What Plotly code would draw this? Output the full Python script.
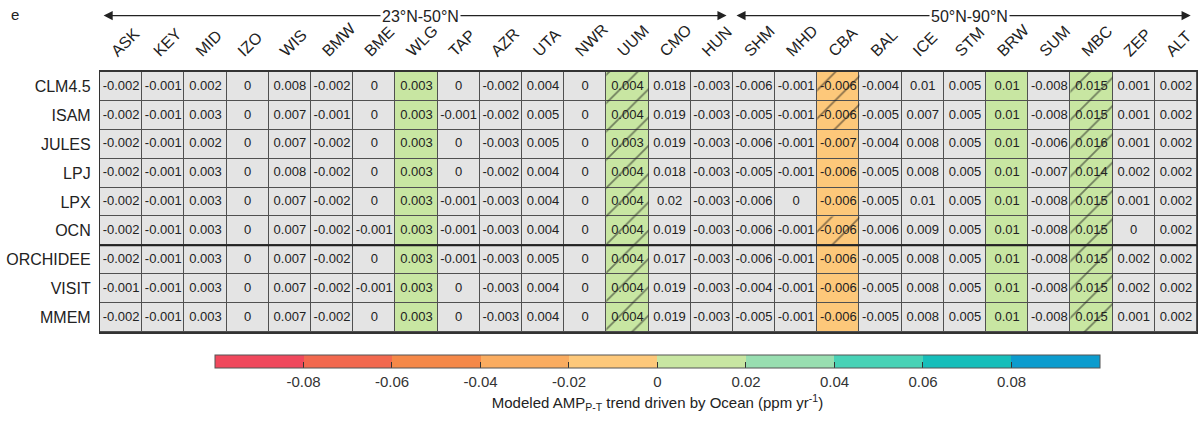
import plotly.graph_objects as go

# Stations (columns) and models (rows)
stations = ["ASK", "KEY", "MID", "IZO", "WIS", "BMW", "BME", "WLG", "TAP", "AZR", "UTA", "NWR", "UUM",
            "CMO", "HUN", "SHM", "MHD", "CBA", "BAL", "ICE", "STM", "BRW", "SUM", "MBC", "ZEP", "ALT"]
models = ["CLM4.5", "ISAM", "JULES", "LPJ", "LPX", "OCN", "ORCHIDEE", "VISIT", "MMEM"]

# Modeled AMP(P-T) trend driven by ocean, ppm/yr
clm45 = [-0.002, -0.001, 0.002, 0, 0.008, -0.002, 0, 0.003, 0, -0.002, 0.004, 0, 0.004, 0.018, -0.003, -0.006, -0.001, -0.006, -0.004, 0.01, 0.005, 0.01, -0.008, 0.015, 0.001, 0.002]
isam = [-0.002, -0.001, 0.003, 0, 0.007, -0.001, 0, 0.003, -0.001, -0.002, 0.005, 0, 0.004, 0.019, -0.003, -0.005, -0.001, -0.006, -0.005, 0.007, 0.005, 0.01, -0.008, 0.015, 0.001, 0.002]
jules = [-0.002, -0.001, 0.002, 0, 0.007, -0.002, 0, 0.003, 0, -0.003, 0.005, 0, 0.003, 0.019, -0.003, -0.006, -0.001, -0.007, -0.004, 0.008, 0.005, 0.01, -0.006, 0.016, 0.001, 0.002]
lpj = [-0.002, -0.001, 0.003, 0, 0.008, -0.002, 0, 0.003, 0, -0.002, 0.004, 0, 0.004, 0.018, -0.003, -0.005, -0.001, -0.006, -0.005, 0.008, 0.005, 0.01, -0.007, 0.014, 0.002, 0.002]
lpx = [-0.002, -0.001, 0.003, 0, 0.007, -0.002, 0, 0.003, -0.001, -0.003, 0.004, 0, 0.004, 0.02, -0.003, -0.006, 0, -0.006, -0.005, 0.01, 0.005, 0.01, -0.008, 0.015, 0.001, 0.002]
ocn = [-0.002, -0.001, 0.003, 0, 0.007, -0.002, -0.001, 0.003, -0.001, -0.003, 0.004, 0, 0.004, 0.019, -0.003, -0.006, -0.001, -0.006, -0.006, 0.009, 0.005, 0.01, -0.008, 0.015, 0, 0.002]
orchidee = [-0.002, -0.001, 0.003, 0, 0.007, -0.002, 0, 0.003, -0.001, -0.003, 0.005, 0, 0.004, 0.017, -0.003, -0.006, -0.001, -0.006, -0.005, 0.008, 0.005, 0.01, -0.008, 0.015, 0.002, 0.002]
visit = [-0.001, -0.001, 0.003, 0, 0.007, -0.002, -0.001, 0.003, 0, -0.003, 0.004, 0, 0.004, 0.019, -0.003, -0.004, -0.001, -0.006, -0.005, 0.008, 0.005, 0.01, -0.008, 0.015, 0.002, 0.002]
mmem = [-0.002, -0.001, 0.003, 0, 0.007, -0.002, 0, 0.003, 0, -0.003, 0.004, 0, 0.004, 0.019, -0.003, -0.005, -0.001, -0.006, -0.005, 0.008, 0.005, 0.01, -0.008, 0.015, 0.001, 0.002]
values = [clm45, isam, jules, lpj, lpx, ocn, orchidee, visit, mmem]

# Stations whose trends are coloured, and cells marked with hatching
colored_stations = ["WLG", "UUM", "CBA", "BRW", "MBC"]
hatched_cells = [(m, "UUM") for m in models] + [(m, "MBC") for m in models] + \
                [("CLM4.5", "CBA"), ("ISAM", "CBA"), ("OCN", "CBA")]

# Discrete colour scale, 10 bins between -0.1 and 0.1
bin_colors = ["rgb(240,72,92)", "rgb(242,104,78)", "rgb(245,136,72)", "rgb(250,172,96)",
              "rgb(253,200,122)", "rgb(200,230,162)", "rgb(152,222,176)", "rgb(72,210,182)",
              "rgb(22,190,186)", "rgb(12,156,206)"]
cb_ticks = [-0.08, -0.06, -0.04, -0.02, 0, 0.02, 0.04, 0.06, 0.08]

colorscale = []
n = len(bin_colors)
for i, c in enumerate(bin_colors):
    colorscale.append([i / n, c])
    colorscale.append([(i + 1) / n, c])

nrow, ncol = len(models), len(stations)
xs = list(range(ncol))
ys = list(range(nrow))

gray_z = [[0] * ncol for _ in range(nrow)]
color_z = [[values[r][c] if stations[c] in colored_stations else None for c in xs] for r in ys]

fig = go.Figure()

# Grey background cells
fig.add_trace(go.Heatmap(
    x=xs, y=ys, z=gray_z, colorscale=[[0, "#e4e4e4"], [1, "#e4e4e4"]],
    showscale=False, xgap=1, ygap=1, hoverinfo="skip"))

# Coloured cells with the shared colour bar
fig.add_trace(go.Heatmap(
    x=xs, y=ys, z=color_z, colorscale=colorscale, zmin=-0.1, zmax=0.1,
    xgap=1, ygap=1, hoverinfo="skip",
    colorbar=dict(
        orientation="h", lenmode="pixels", len=885, thickness=13,
        x=0.5082, xanchor="center", y=-0.088, yanchor="top", xpad=0, ypad=0,
        outlinewidth=1, outlinecolor="#555",
        tickmode="array", tickvals=cb_ticks, ticktext=[f"{t:g}" for t in cb_ticks],
        ticks="inside", ticklen=6, tickcolor="#333", tickwidth=1,
        tickfont=dict(size=15, color="#333"),
        title=dict(text="Modeled AMP<sub>P-T</sub> trend driven by Ocean (ppm yr<sup>-1</sup>)",
                   side="bottom", font=dict(size=15, color="#222")),
    )))

# Hatching over the marked cells
hx = [stations.index(s) for m, s in hatched_cells]
hb = [models.index(m) - 0.5 for m, s in hatched_cells]
fig.add_trace(go.Bar(
    x=hx, y=[1] * len(hx), base=hb, width=1, hoverinfo="skip", showlegend=False,
    marker=dict(color="rgba(0,0,0,0)", line=dict(width=0),
                pattern=dict(shape="/", fgcolor="#1a1a1a", bgcolor="rgba(0,0,0,0)",
                             size=20, solidity=0.09))))

# Cell values as text
tx, ty, tt = [], [], []
for r in ys:
    for c in xs:
        tx.append(c)
        ty.append(r)
        tt.append(f"{values[r][c]:g}")
fig.add_trace(go.Scatter(
    x=tx, y=ty, text=tt, mode="text", hoverinfo="skip", showlegend=False,
    textfont=dict(size=13, color="#222", family="Arial, Liberation Sans")))

# Separator between the individual models group and the rest
fig.add_shape(type="line", xref="x", yref="y", x0=-0.5, x1=ncol - 0.5,
              y0=models.index("OCN") + 0.5, y1=models.index("OCN") + 0.5,
              line=dict(color="#222", width=2))

# Latitude band arrows
bands = [("23°N-50°N", 0, stations.index("HUN")), ("50°N-90°N", stations.index("SHM"), ncol - 1)]
for label, c0, c1 in bands:
    fig.add_annotation(x=c1 + 0.35, y=1.217, xref="x", yref="paper",
                       ax=c0 - 0.45, ay=0, axref="x", ayref="pixel",
                       text="", showarrow=True, arrowhead=2, arrowside="end+start",
                       arrowsize=1.3, arrowwidth=1.4, arrowcolor="#222")
    fig.add_annotation(x=(c0 + c1) / 2 + 0.1, y=1.255, xref="x", yref="paper",
                       text=label, showarrow=False, bgcolor="white",
                       font=dict(size=16, color="#222"), borderpad=1)

fig.add_annotation(x=-0.083, y=1.26, xref="paper", yref="paper", text="e",
                   showarrow=False, font=dict(size=15, color="#222"))

fig.update_layout(
    width=1203, height=423,
    margin=dict(l=100, r=6, t=72, b=91, autoexpand=False),
    paper_bgcolor="white", plot_bgcolor="#505050",
    font=dict(family="Arial, Liberation Sans", color="#222"),
    showlegend=False, barmode="overlay",
    xaxis=dict(range=[-0.5, ncol - 0.5], side="top", tickmode="array", tickvals=xs,
               ticktext=stations, tickangle=-45, showgrid=False, zeroline=False,
               ticks="", tickfont=dict(size=16, color="#222"),
               ticklabelstandoff=4, ticklabelshift=-9,
               showline=True, mirror=True, linecolor="#333", linewidth=1.5),
    yaxis=dict(range=[nrow - 0.5, -0.5], tickmode="array", tickvals=ys, ticktext=models,
               showgrid=False, zeroline=False, ticks="",
               tickfont=dict(size=16, color="#222"), ticklabelstandoff=5,
               showline=True, mirror=True, linecolor="#333", linewidth=1.2),
)

fig.write_html("out.html")
